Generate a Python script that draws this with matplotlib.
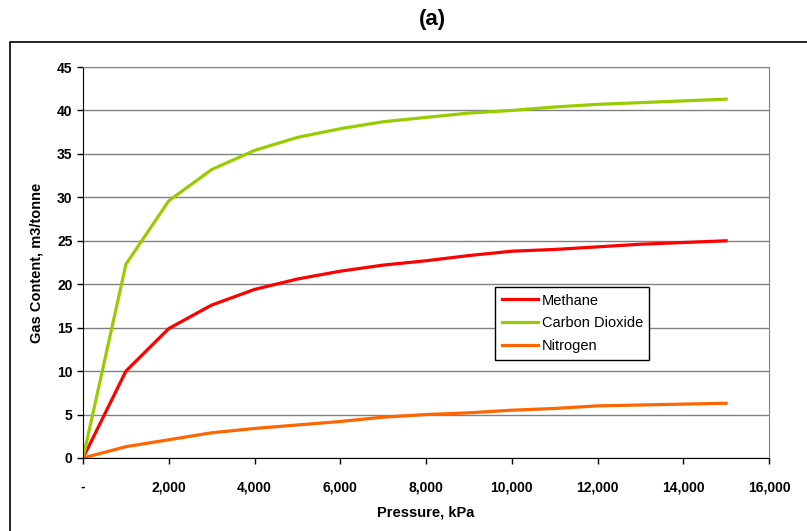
import matplotlib.pyplot as plt
from matplotlib.patches import Rectangle
from matplotlib.ticker import FuncFormatter

plt.rcParams['font.family'] = ['Liberation Sans', 'DejaVu Sans']

# pressure (kPa) and gas content (m3/tonne)
pressure = [0, 1000, 2000, 3000, 4000, 5000, 6000, 7000, 8000, 9000, 10000, 11000, 12000, 13000, 14000, 15000]
methane = [0, 10.0, 14.9, 17.6, 19.4, 20.6, 21.5, 22.2, 22.7, 23.3, 23.8, 24.0, 24.3, 24.6, 24.8, 25.0]
co2 = [0, 22.3, 29.6, 33.2, 35.4, 36.9, 37.9, 38.7, 39.2, 39.7, 40.0, 40.4, 40.7, 40.9, 41.1, 41.3]
nitrogen = [0, 1.3, 2.1, 2.9, 3.4, 3.8, 4.2, 4.7, 5.0, 5.2, 5.5, 5.7, 6.0, 6.1, 6.2, 6.3]

fig = plt.figure(figsize=(8.07, 5.31), dpi=100)
ax = fig.add_axes([0.1029, 0.1375, 0.850, 0.7363])

# outer chart border
fig.patches.append(Rectangle((10 / 807, -0.05), 1.0, (531 - 42) / 531 + 0.05,
                             transform=fig.transFigure, fill=False,
                             edgecolor='black', linewidth=1.2))
fig.text(432 / 807, 1 - 20 / 531, '(a)', ha='center', va='center',
         fontsize=16, fontweight='bold')

ax.plot(pressure, methane, color='#FF0000', lw=2.3, label='Methane')
ax.plot(pressure, co2, color='#99CC00', lw=2.3, label='Carbon Dioxide')
ax.plot(pressure, nitrogen, color='#FF6600', lw=2.3, label='Nitrogen')

ax.set_xlim(0, 16000)
ax.set_ylim(0, 45)
ax.set_xticks(range(0, 16001, 2000))
ax.set_yticks(range(0, 46, 5))
ax.xaxis.set_major_formatter(FuncFormatter(lambda v, p: '-' if v == 0 else f'{int(v):,}'))
ax.yaxis.grid(True, color='#808080', lw=1.0)
ax.set_axisbelow(True)

for s in ['top', 'right']:
    ax.spines[s].set_color('#808080')
ax.spines['left'].set_color('black')
ax.spines['bottom'].set_color('black')
ax.tick_params(direction='out', length=4, width=1, labelsize=10)
ax.tick_params(axis='x', pad=12)
for lbl in ax.get_xticklabels() + ax.get_yticklabels():
    lbl.set_fontweight('bold')

ax.set_xlabel('Pressure, kPa', fontsize=10.5, fontweight='bold', labelpad=8)
ax.set_ylabel('Gas Content, m3/tonne', fontsize=10.5, fontweight='bold', labelpad=10)

leg = ax.legend(loc='upper left', bbox_to_anchor=((495 - 83) / 686, 1 - (287 - 67) / 391),
                fancybox=False, framealpha=1, edgecolor='black', fontsize=10.5,
                handlelength=2.5, borderpad=0.45, labelspacing=0.6, handletextpad=0.25,
                borderaxespad=0)
leg.get_frame().set_linewidth(1.0)

plt.savefig('out.png', dpi=100)
